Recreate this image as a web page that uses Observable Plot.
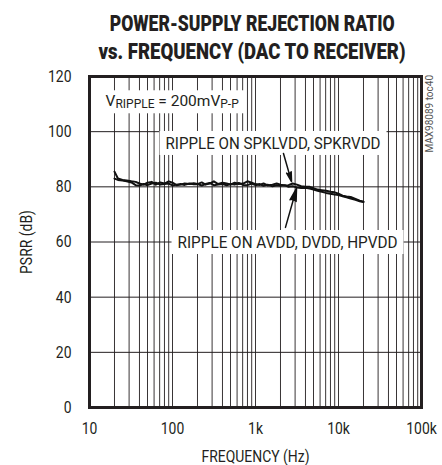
<!DOCTYPE html>
<html><head><meta charset="utf-8">
<script src="https://cdn.jsdelivr.net/npm/d3@7"></script>
<script src="https://cdn.jsdelivr.net/npm/@observablehq/plot@0.6"></script>
<style>
body{margin:0;background:#fff;}
#wrap{position:relative;width:442px;height:465px;overflow:hidden;}
#title{position:absolute;top:10px;left:31px;width:442px;text-align:center;font-family:Roboto,"Liberation Sans",sans-serif;font-weight:900;font-size:22px;line-height:28px;color:#231f20;z-index:2;}
#title span{display:inline-block;transform-origin:50% 50%;white-space:nowrap;}
#tag{position:absolute;left:424px;top:75px;writing-mode:vertical-rl;transform:rotate(180deg);font-family:Roboto,sans-serif;font-size:10px;color:#555;z-index:2;white-space:nowrap;}
</style></head>
<body><div id="wrap"><div id="title"><span id="t1">POWER-SUPPLY REJECTION RATIO</span><br><span id="t2">vs. FREQUENCY (DAC TO RECEIVER)</span></div><div id="tag">MAX98089 toc40</div></div>
<script>
const FONT = 'Roboto,"Liberation Sans",sans-serif';
const freq = [20,22,25,28,32,36,40,45,50,56,63,71,80,90,100,112,125,140,160,180,200,225,250,280,315,355,400,450,500,560,630,710,800,900,1000,1120,1250,1400,1600,1800,2000,2250,2500,2800,3150,3550,4000,4500,5000,5600,6300,7100,8000,9000,10000,11200,12500,14000,16000,18000,20000];
const psrrSpk = [85.5,83,82.5,82.3,82,81.8,81.2,80.8,81.5,81.8,80.8,81.6,81.2,82,81.5,80.6,80.8,81.2,81.0,81.3,81.0,81.6,80.8,81.2,82,81.0,81.5,81.2,80.8,81.5,81.0,81.2,82,81.5,81.0,80.7,81.2,80.5,80.8,81.2,80.8,80.5,80.6,81.2,80.8,80.2,80.0,80.0,79.5,79.0,78.8,78.6,78.2,78.0,77.5,76.8,76.5,76.3,75.6,75.0,74.6];
const psrrAvdd = [83,82.5,82.3,82,81.6,80.6,80.5,81,80.6,81.2,81.5,80.8,81.0,81.2,80.5,80.8,81.0,80.7,81.2,80.9,81.0,80.5,81.0,81.4,80.6,80.8,81.0,80.6,81.0,80.8,81.4,80.7,80.6,81.2,80.6,81.0,80.4,80.8,80.2,80.6,80.4,80.6,80.0,80.2,79.8,79.6,79.7,79.4,79.0,78.6,78.2,77.8,77.5,77.2,77.0,76.6,76.2,75.8,75.3,74.8,74.5];
const xTicks = [10,100,1000,10000,100000];
const xTickLabels = ["10","100","1k","10k","100k"];
const yTicks = [0,20,40,60,80,100,120];
const annoText = ["RIPPLE ON SPKLVDD, SPKRVDD","RIPPLE ON AVDD, DVDD, HPVDD"];
const annoX = [1626,2432];
const annoY = [95.7,59.8];
const arrowX1 = [2173,2296], arrowY1 = [92.1,65.3];
const arrowX2 = [2716,3119], arrowY2 = [81.9,79.4];

const gridX = [];
xTicks.slice(0,-1).forEach(d => { for (let k = 1; k <= 9; k++) gridX.push(d*k); });
gridX.push(100000);

const rows = [];
freq.forEach((f,i) => { rows.push({f, v: psrrSpk[i], s: "spk"}); rows.push({f, v: psrrAvdd[i], s: "avdd"}); });
const annos = annoText.map((t,i) => ({t, x: annoX[i], y: annoY[i]}));
const arrows = arrowX1.map((d,i) => ({x1: d, y1: arrowY1[i], x2: arrowX2[i], y2: arrowY2[i]}));

const chart = Plot.plot({
  width: 442, height: 465,
  marginTop: 76, marginBottom: 58, marginLeft: 89, marginRight: 21,
  style: {fontFamily: FONT, fontSize: "17px", color: "#231f20", background: "white", overflow: "visible"},
  x: {type: "log", domain: [10,100000], ticks: xTicks, tickFormat: d => xTickLabels[xTicks.indexOf(d)], tickSize: 0, tickPadding: 14, label: "FREQUENCY (Hz)", labelArrow: "none", labelAnchor: "center", labelOffset: 54},
  y: {domain: [0,120], ticks: yTicks, tickSize: 0, tickPadding: 18, label: "PSRR (dB)", labelArrow: "none", labelAnchor: "center", labelOffset: 70},
  marks: [
    Plot.ruleX(gridX, {stroke: "#231f20", strokeWidth: 1, strokeOpacity: 0.9}),
    Plot.ruleY(yTicks, {stroke: "#231f20", strokeWidth: 1}),
    Plot.text(annos, {x: "x", y: "y", text: "t", fill: "#231f20", fontSize: 17, ariaDescription: "annot"}),
    Plot.text([{x: 15.6, y: 111}], {x: "x", y: "y", text: () => "V", textAnchor: "start", fontSize: 15.5, fill: "#231f20", ariaDescription: "vripple"}),
    Plot.line(rows, {x: "f", y: "v", z: "s", stroke: "#111", strokeWidth: 2}),
    Plot.arrow(arrows, {x1: "x1", y1: "y1", x2: "x2", y2: "y2", stroke: "#111", strokeWidth: 1.5, headLength: 13, headAngle: 28, ariaDescription: "arrows"}),
    Plot.frame({stroke: "#231f20", strokeWidth: 3})
  ]
});
document.getElementById("wrap").appendChild(chart);
chart.style.position = "absolute"; chart.style.left = "0"; chart.style.top = "0";
const svg = d3.select(chart);

// condense axis tick labels and axis labels (anchored transforms)
svg.selectAll('g[aria-label$="tick label"] text, g[aria-label$="label"] text').each(function() {
  const tr = this.getAttribute("transform") || "";
  this.setAttribute("transform", tr + " scale(0.82,1)");
});

// V_RIPPLE subscripts
const vt = svg.select('g[aria-description="vripple"] text');
vt.text(null);
vt.append("tspan").text("V");
vt.append("tspan").attr("font-size", 12).attr("dy", 2).text("RIPPLE");
vt.append("tspan").attr("font-size", 15.5).attr("dy", -2).text(" = 200mV");
vt.append("tspan").attr("font-size", 12).attr("dy", 2).text("P-P");

const annoW = [215, 220];
svg.selectAll('g[aria-description="annot"] text').each(function(d, i) {
  this.setAttribute("textLength", annoW[i]);
  this.setAttribute("lengthAdjust", "spacingAndGlyphs");
});

// white boxes behind annotations
svg.selectAll('g[aria-description="annot"] text, g[aria-description="vripple"] text').each(function() {
  const b = this.getBBox();
  const tr = this.getAttribute("transform");
  const r = document.createElementNS("http://www.w3.org/2000/svg", "rect");
  r.setAttribute("x", b.x - 6); r.setAttribute("y", b.y - 2);
  r.setAttribute("width", b.width + 12); r.setAttribute("height", b.height + 4);
  r.setAttribute("fill", "white");
  if (tr) r.setAttribute("transform", tr);
  this.parentNode.insertBefore(r, this);
});

// filled arrow heads
svg.selectAll('g[aria-description="arrows"] path').attr("fill", "#111");

// condensed title
[["t1", 285], ["t2", 307]].forEach(([id, w]) => {
  const el = document.getElementById(id);
  const cur = el.getBoundingClientRect().width;
  el.style.transform = `scaleX(${w / cur})`;
});
</script>
</body></html>
